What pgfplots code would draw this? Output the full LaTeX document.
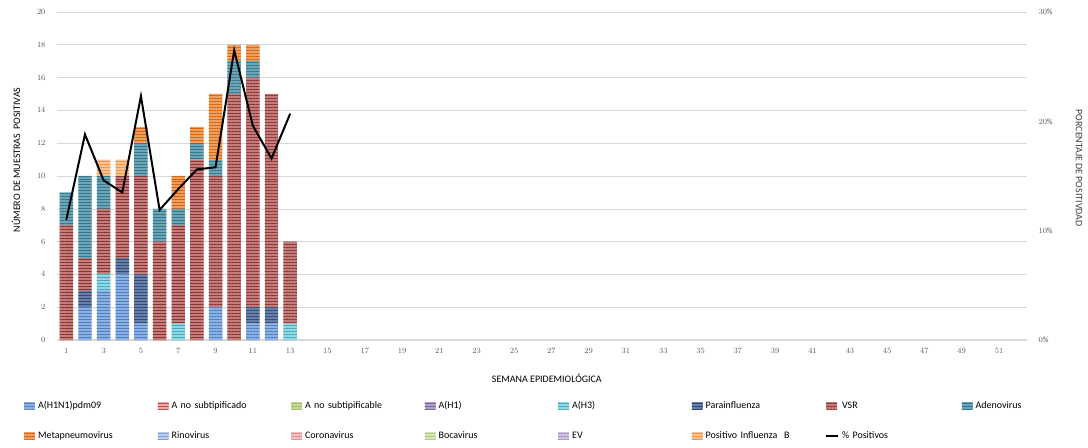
\documentclass[border=0pt]{standalone}
\usepackage{pgfplots}
\pgfplotsset{compat=1.18}
\usepackage{fontspec}
\setmainfont{Carlito}
\usetikzlibrary{patterns,patterns.meta}

\definecolor{fH1N1}{HTML}{8CB0E1}\definecolor{sH1N1}{HTML}{4F7FC2}
\definecolor{fAns}{HTML}{E8A9A8}\definecolor{sAns}{HTML}{C4504D}
\definecolor{fAnsb}{HTML}{C6DA9F}\definecolor{sAnsb}{HTML}{9BBB59}
\definecolor{fH1}{HTML}{B3A2CC}\definecolor{sH1}{HTML}{8064A2}
\definecolor{fH3}{HTML}{91D8E1}\definecolor{sH3}{HTML}{45A8C2}
\definecolor{fPar}{HTML}{6A7FA3}\definecolor{sPar}{HTML}{2B4C7C}
\definecolor{fVSR}{HTML}{C17C7C}\definecolor{sVSR}{HTML}{8E3331}
\definecolor{fAde}{HTML}{6FA4B7}\definecolor{sAde}{HTML}{2F7A8F}
\definecolor{fMet}{HTML}{ECA064}\definecolor{sMet}{HTML}{D9640A}
\definecolor{fRin}{HTML}{B9CFEC}\definecolor{sRin}{HTML}{7EA3D6}
\definecolor{fCor}{HTML}{F0C2C1}\definecolor{sCor}{HTML}{E08A88}
\definecolor{fBoc}{HTML}{D6E4BA}\definecolor{sBoc}{HTML}{B5CE86}
\definecolor{fEV}{HTML}{CFC3DF}\definecolor{sEV}{HTML}{A592C0}
\definecolor{fFlB}{HTML}{FBC291}\definecolor{sFlB}{HTML}{F79646}
\definecolor{gridc}{HTML}{D9D9D9}
\definecolor{tickc}{HTML}{595959}
\definecolor{labc}{HTML}{404040}

\pgfplotsset{
  st/.style 2 args={fill=#1, draw=none,
    postaction={pattern={Lines[angle=0,distance=3pt,line width=1pt]}, pattern color=#2}},
  boxleg/.style={legend image code/.code={\draw[##1,draw=none] (0pt,-3.5pt) rectangle (11pt,3.5pt);}},
  linleg/.style={legend image code/.code={\draw[##1] (0pt,0pt) -- (12pt,0pt);}},
}

\begin{document}
\begin{tikzpicture}
\path[use as bounding box] (-57bp,-108bp) rectangle (1031bp,340bp);
\begin{axis}[
  at={(0,0)}, anchor=south west,
  scale only axis, width=970bp, height=328bp,
  xmin=0.5, xmax=52.5, ymin=0, ymax=20,
  ybar stacked, bar width=0.72,
  xtick={1,3,...,51}, ytick={0,2,...,20},
  major tick length=0pt,
  axis x line*=bottom, axis y line*=left,
  x axis line style={draw=gridc, line width=1.2pt},
  y axis line style={draw=none},
  ymajorgrids, grid style={gridc, line width=0.6pt},
  tick label style={font=\fontsize{8}{9}\selectfont, text=tickc},
  yticklabel style={xshift=-8bp},
  xticklabel style={yshift=-5bp},
  xlabel={SEMANA EPIDEMIOLÓGICA},
  ylabel={NÚMERO DE MUESTRAS\ \ POSITIVAS},
  label style={font=\fontsize{10}{12}\selectfont, text=labc},
  every axis x label/.style={at={([yshift=-38bp]axis description cs:0.505,0)}, anchor=center},
  every axis y label/.style={at={([xshift=-41bp]axis description cs:0,0.549)}, anchor=center, rotate=90},
  legend columns=8,
  legend cell align=left,
  legend style={at={(0,0)}, anchor=north west, xshift=-33bp, yshift=-59bp,
    draw=none, fill=none, inner sep=0pt, row sep=17pt, column sep=0pt,
    nodes={text width=117pt, inner xsep=3pt, inner ysep=2pt, text height=7pt, text depth=2pt,
      font=\fontsize{10}{12}\selectfont, text=black}},
]
% A(H1N1)pdm09
\addplot[st={fH1N1}{sH1N1}, boxleg] coordinates {(1,0)(2,2)(3,3)(4,4)(5,1)(6,0)(7,0)(8,0)(9,2)(10,0)(11,1)(12,1)(13,0)};
\addlegendentry{A(H1N1)pdm09}
\addlegendimage{st={fAns}{sAns}, boxleg}
\addlegendentry{A no subtipificado}
\addlegendimage{st={fAnsb}{sAnsb}, boxleg}
\addlegendentry{A no subtipificable}
\addlegendimage{st={fH1}{sH1}, boxleg}
\addlegendentry{A(H1)}
% A(H3)
\addplot[st={fH3}{sH3}, boxleg] coordinates {(1,0)(2,0)(3,1)(4,0)(5,0)(6,0)(7,1)(8,0)(9,0)(10,0)(11,0)(12,0)(13,1)};
\addlegendentry{A(H3)}
% Parainfluenza
\addplot[st={fPar}{sPar}, boxleg] coordinates {(1,0)(2,1)(3,0)(4,1)(5,3)(6,0)(7,0)(8,0)(9,0)(10,0)(11,1)(12,1)(13,0)};
\addlegendentry{Parainfluenza}
% VSR
\addplot[st={fVSR}{sVSR}, boxleg] coordinates {(1,7)(2,2)(3,4)(4,5)(5,6)(6,6)(7,6)(8,11)(9,8)(10,15)(11,14)(12,13)(13,5)};
\addlegendentry{VSR}
% Adenovirus
\addplot[st={fAde}{sAde}, boxleg] coordinates {(1,2)(2,5)(3,2)(4,0)(5,2)(6,2)(7,1)(8,1)(9,1)(10,2)(11,1)(12,0)(13,0)};
\addlegendentry{Adenovirus}
% Metapneumovirus
\addplot[st={fMet}{sMet}, boxleg] coordinates {(1,0)(2,0)(3,0)(4,0)(5,1)(6,0)(7,2)(8,1)(9,4)(10,1)(11,1)(12,0)(13,0)};
\addlegendentry{Metapneumovirus}
\addlegendimage{st={fRin}{sRin}, boxleg}
\addlegendentry{Rinovirus}
\addlegendimage{st={fCor}{sCor}, boxleg}
\addlegendentry{Coronavirus}
\addlegendimage{st={fBoc}{sBoc}, boxleg}
\addlegendentry{Bocavirus}
\addlegendimage{st={fEV}{sEV}, boxleg}
\addlegendentry{EV}
% Positivo Influenza B
\addplot[st={fFlB}{sFlB}, boxleg] coordinates {(1,0)(2,0)(3,1)(4,1)(5,0)(6,0)(7,0)(8,0)(9,0)(10,0)(11,0)(12,0)(13,0)};
\addlegendentry{Positivo Influenza\ \ B}
\addlegendimage{black, line width=2pt, linleg}
\addlegendentry{\% Positivos}
\end{axis}
\begin{axis}[
  at={(0,0)}, anchor=south west,
  scale only axis, width=970bp, height=328bp,
  xmin=0.5, xmax=52.5, ymin=0, ymax=30,
  axis x line=none, axis y line*=right,
  y axis line style={draw=none},
  ytick={0,10,20,30},
  yticklabel={\pgfmathprintnumber{\tick}\%},
  major tick length=0pt,
  tick label style={font=\fontsize{8}{9}\selectfont, text=tickc},
  yticklabel style={xshift=8bp},
  ylabel={PORCENTAJE DE POSITIVDAD},
  every axis y label/.style={at={([xshift=52bp]axis description cs:1,0.524)}, anchor=center, rotate=-90},
  label style={font=\fontsize{10}{12}\selectfont, text=labc},
]
\addplot[black, line width=2pt, sharp plot] coordinates {(1,11.0)(2,18.8)(3,14.6)(4,13.5)(5,22.3)(6,11.9)(7,13.8)(8,15.6)(9,15.8)(10,26.5)(11,19.6)(12,16.6)(13,20.7)};
\end{axis}
\end{tikzpicture}
\end{document}
